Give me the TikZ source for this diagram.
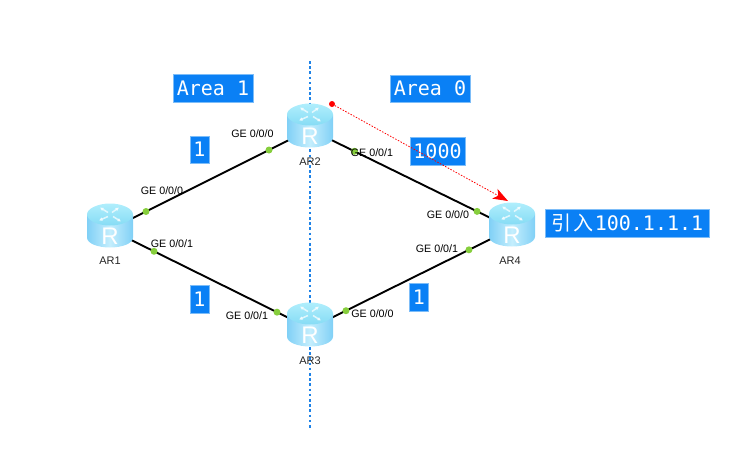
\documentclass[tikz,border=0pt]{standalone}
\usepackage{fontspec}
\setmainfont{Liberation Sans}
\newfontfamily\boxmono{DejaVu Sans Mono}
\newfontfamily\cjkfont{Noto Sans CJK SC}[Scale=1]
\usetikzlibrary{arrows.meta}
\definecolor{boxblue}{HTML}{0A80F5}
\definecolor{boxedge}{HTML}{7DBDF8}
\definecolor{dotgreen}{HTML}{86CE3C}
\definecolor{axisblue}{HTML}{1E82E6}
\definecolor{rtedge}{HTML}{80D0F6}
\definecolor{rtmid}{HTML}{C4EEFD}
\definecolor{rttop}{HTML}{B0EEFC}
\definecolor{rttopl}{HTML}{86DCF5}
\tikzset{
  x=1pt,y=-1pt,
  link/.style={draw=black,line width=1.9pt},
  portdot/.style={circle,fill=dotgreen,draw=none,inner sep=0pt,minimum size=7pt},
  portlab/.style={font=\fontsize{10.7}{11}\selectfont,text=black,inner sep=0pt},
  rtlab/.style={font=\fontsize{11}{11}\selectfont,text=black!85,inner sep=0pt},
  infobox/.style={fill=boxblue,draw=boxedge,line width=.5pt,text=white,inner sep=0pt,font=\boxmono\fontsize{20}{20}\selectfont},
  rtarrow/.style={draw=white,line width=1.5pt,opacity=.7,-{Latex[length=3.5pt,width=4pt]}},
  router/.pic={
    \path[left color=rtedge,right color=rtedge,middle color=rtmid]
      (-23,-15) -- (-23,8) .. controls (-23,14) and (-12,18) .. (0,18)
      .. controls (12,18) and (23,14) .. (23,8) -- (23,-15) -- cycle;
    \path[top color=rttop,bottom color=rttopl]
      (-23,-15) .. controls (-23,-21) and (-12,-26) .. (0,-26)
      .. controls (12,-26) and (23,-21) .. (23,-15)
      .. controls (23,-9) and (12,-4) .. (0,-4)
      .. controls (-12,-4) and (-23,-9) .. (-23,-15) -- cycle;
    \draw[rtarrow] (-2,-17) -- (-10,-22);
    \draw[rtarrow] (2,-17) -- (9,-22);
    \draw[rtarrow] (-2,-13) -- (-11,-9);
    \draw[rtarrow] (3,-13) -- (11,-8);
    \node[text=white,inner sep=0pt,font=\fontsize{24}{24}\selectfont] at (0,7) {R};
  }
}
\begin{document}
\begin{tikzpicture}
\useasboundingbox (0,0) rectangle (745,451);
\coordinate (AR1) at (110,229.5);
\coordinate (AR2) at (310,129.5);
\coordinate (AR3) at (310,328.5);
\coordinate (AR4) at (512,228.5);
\coordinate (axisT) at (310,61);
\coordinate (axisB) at (310,430);
\coordinate (redS) at (332,104);
\coordinate (redE) at (508,201);
% axis
\draw[axisblue,line width=2.4pt,dash pattern=on 2.6pt off 2.6pt] (axisT) -- (axisB);
% links
\draw[link] (AR1) -- node[portdot,pos=.18] (d1) {} node[portdot,pos=.795] (d2) {} (AR2);
\draw[link] (AR1) -- node[portdot,pos=.22] (d3) {} node[portdot,pos=.835] (d4) {} (AR3);
\draw[link] (AR2) -- node[portdot,pos=.22] (d5) {} node[portdot,pos=.827] (d6) {} (AR4);
\draw[link] (AR3) -- node[portdot,pos=.178] (d7) {} node[portdot,pos=.787] (d8) {} (AR4);
% routers
\foreach \r in {AR1,AR2,AR3,AR4} \pic at (\r) {router};
\node[rtlab] (l1) at (110,261) {AR1};
\node[rtlab] (l2) at (310,162) {AR2};
\node[rtlab] (l3) at (310,361) {AR3};
\node[rtlab] (l4) at (510,261) {AR4};
% port labels
\node[portlab] (p1) at (162,191) {GE 0/0/0};
\node[portlab] (p2) at (252.5,134) {GE 0/0/0};
\node[portlab] (p3) at (172,244) {GE 0/0/1};
\node[portlab] (p4) at (247,316) {GE 0/0/1};
\node[portlab] (p5) at (372,153) {GE 0/0/1};
\node[portlab] (p6) at (448,215) {GE 0/0/0};
\node[portlab] (p7) at (437,249) {GE 0/0/1};
\node[portlab] (p8) at (372.5,314) {GE 0/0/0};
% info boxes
\node[infobox,minimum width=80pt,minimum height=28pt] (a1) at (213,88) {Area 1};
\node[infobox,minimum width=80pt,minimum height=27pt] (a0) at (430,88.5) {Area 0};
\node[infobox,minimum width=19pt,minimum height=27pt] (c1) at (199.5,149.5) {1};
\node[infobox,minimum width=19pt,minimum height=28pt] (c2) at (199.5,299) {1};
\node[infobox,minimum width=19pt,minimum height=28pt] (c3) at (419,297) {1};
\node[infobox,minimum width=55pt,minimum height=28pt] (c4) at (437.5,151) {1000};
\node[infobox,minimum width=164pt,minimum height=28pt] (imp) at (627.5,223) {{\cjkfont\fontsize{20}{20}\selectfont 引\kern2pt 入}\kern1pt 100.1.1.1};
% red arrow
\node[circle,fill=red,inner sep=0pt,minimum size=6pt] (rd) at (redS) {};
\draw[red,line width=.8pt,dash pattern=on 1.5pt off 1.5pt,-{Stealth[length=15pt,width=11pt,inset=4pt]}] (rd) -- (redE);
\end{tikzpicture}
\end{document}
